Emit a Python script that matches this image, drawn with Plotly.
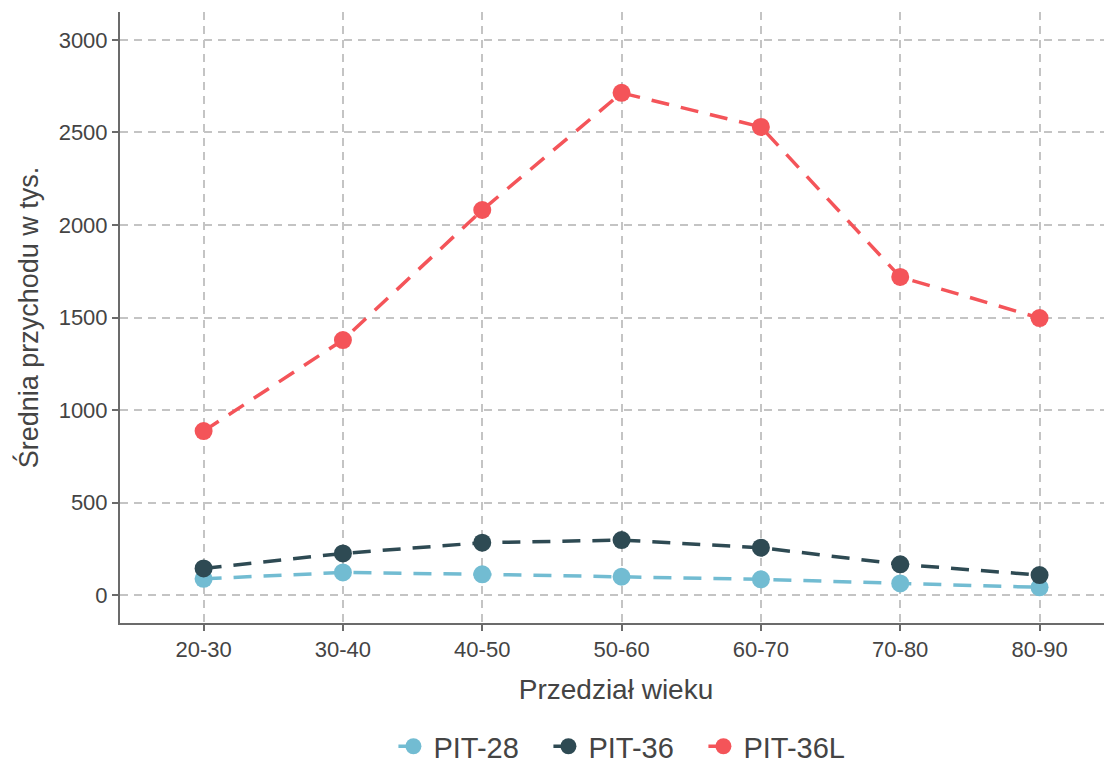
import plotly.graph_objects as go

age_groups = ["20-30", "30-40", "40-50", "50-60", "60-70", "70-80", "80-90"]
pit28 = [88, 122, 112, 99, 85, 63, 42]
pit36 = [144, 225, 283, 297, 256, 166, 108]
pit36l = [886, 1378, 2081, 2714, 2530, 1719, 1497]

series = [
    ("PIT-28", pit28, "#72BCD2"),
    ("PIT-36", pit36, "#2E4A53"),
    ("PIT-36L", pit36l, "#F45459"),
]

fig = go.Figure()
for name, vals, col in series:
    fig.add_trace(go.Scatter(
        x=list(range(len(age_groups))), y=vals, name=name,
        mode="lines+markers",
        line=dict(color=col, width=3.5, dash="18px,12px"),
        marker=dict(color=col, size=18),
    ))

axis_common = dict(
    showline=True, linecolor="#6b6b6b", linewidth=2,
    ticks="outside", tickcolor="#6b6b6b", ticklen=6, tickwidth=2,
    showgrid=True, gridcolor="#c4c4c4", gridwidth=1.6, griddash="8px,6px",
    zeroline=False, automargin=False,
    tickfont=dict(family="Liberation Sans, Arial", size=22, color="#444444"),
)

# page body has an 8px margin, so the figure is shifted/sized to compensate
fig.update_layout(
    width=1104, height=755,
    plot_bgcolor="white", paper_bgcolor="white",
    margin=dict(l=112, r=0, t=4, b=140),
    font=dict(family="Liberation Sans, Arial", color="#444444"),
    xaxis=dict(
        range=[-0.6, 6.52],
        tickmode="array", tickvals=list(range(len(age_groups))), ticktext=age_groups,
        title=dict(text="Przedział wieku", font=dict(size=28, color="#444444"), standoff=18),
        **axis_common,
    ),
    yaxis=dict(
        range=[-151, 3151],
        tickvals=[0, 500, 1000, 1500, 2000, 2500, 3000],
        title=dict(text="Średnia przychodu w tys.", font=dict(size=27, color="#444444"), standoff=12),
        **axis_common,
    ),
    legend=dict(
        orientation="h", x=0.51, xanchor="center",
        yref="container", y=0.022, yanchor="middle",
        entrywidth=110, entrywidthmode="pixels",
        font=dict(size=29, color="#444444"),
    ),
    showlegend=True,
)

fig.write_html("out.html")
